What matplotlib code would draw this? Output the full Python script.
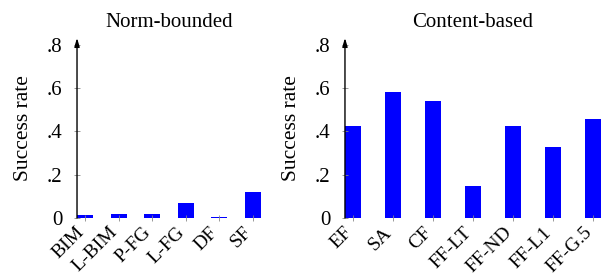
import matplotlib.pyplot as plt
import matplotlib.transforms as mtrans

plt.rcParams["font.family"] = ["Liberation Serif", "DejaVu Serif"]

norm_names = ["BIM", "L-BIM", "P-FG", "L-FG", "DF", "SF"]
norm_rate = [0.012, 0.02, 0.018, 0.067, 0.005, 0.118]

content_names = ["EF", "SA", "CF", "FF-LT", "FF-ND", "FF-L1", "FF-G.5"]
content_rate = [0.424, 0.583, 0.542, 0.147, 0.424, 0.327, 0.457]

yticks = [0, 0.2, 0.4, 0.6, 0.8]
ytick_labels = ["0", ".2", ".4", ".6", ".8"]

fig = plt.figure(figsize=(6.05, 2.74), dpi=100)
ax1 = fig.add_axes([0.1273, 0.2044, 0.304, 0.657])
ax2 = fig.add_axes([0.5702, 0.2044, 0.4231, 0.657])


def style(ax, names, rates, width, title):
    x = range(len(names))
    ax.bar(x, rates, width=width, color="#0000ff", edgecolor="none")
    ax.set_xlim(-width / 2, len(names) - 1 + width / 2)
    ax.set_ylim(0, 0.832)
    for s in ["top", "right", "bottom", "left"]:
        ax.spines[s].set_visible(False)
    ax.annotate("", xy=(0, 1), xytext=(0, 0), xycoords="axes fraction",
                arrowprops=dict(arrowstyle="-|>,head_length=0.5,head_width=0.15",
                                color="black", lw=1, shrinkA=0, shrinkB=0))
    ax.set_yticks(yticks)
    ax.set_yticklabels(ytick_labels, fontsize=15)
    ax.set_xticks(list(x))
    ax.set_xticklabels(names, rotation=45, ha="right", va="center",
                       rotation_mode="anchor", fontsize=14)
    ax.tick_params(axis="both", direction="inout", length=5, width=0.6,
                   color="#888888", pad=2)
    ax.tick_params(axis="x", pad=6)
    ax.tick_params(axis="y", pad=8)
    shift = mtrans.ScaledTranslation(-4 / 100, 0, fig.dpi_scale_trans)
    for lab in ax.get_xticklabels():
        lab.set_transform(lab.get_transform() + shift)
    ax.set_ylabel("Success rate", fontsize=15.5, labelpad=10)
    ax.set_title(title, fontsize=15, pad=8)


style(ax1, norm_names, norm_rate, 0.48, "Norm-bounded")
style(ax2, content_names, content_rate, 0.4, "Content-based")

fig.savefig("out.png", dpi=100)
